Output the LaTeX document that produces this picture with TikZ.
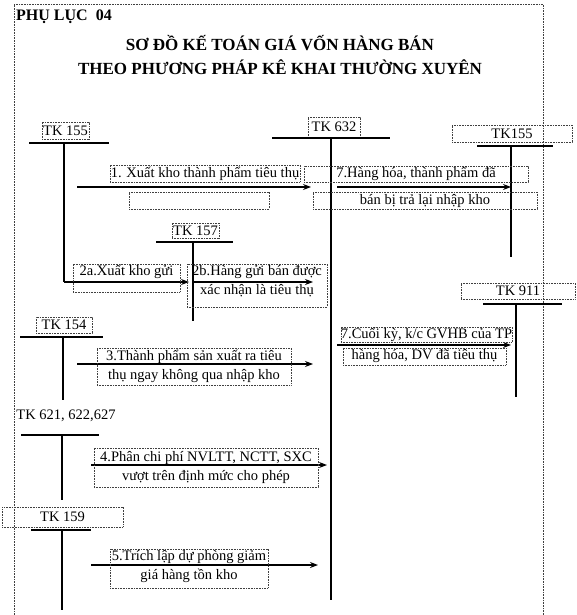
\documentclass[tikz,border=0pt]{standalone}
\usepackage{fontspec}
\setmainfont{Liberation Serif}
\usetikzlibrary{arrows.meta}
\begin{document}
\begin{tikzpicture}[x=1pt,y=-1pt,
  fnt/.style={font=\fontsize{14.5}{19}\selectfont},
  lbl/.style={draw=black!75, dash pattern=on 0.8pt off 0.8pt, line width=0.6pt, inner sep=0pt, fnt, align=center},
  box/.style={draw=black!75, dash pattern=on 0.8pt off 0.8pt, line width=0.6pt, inner sep=0pt},
  txt/.style={inner sep=0pt, fnt, align=center},
  acct/.style={line width=1.1pt},
  arr/.style={line width=1.1pt,-{Stealth[length=8pt,width=6pt]}},
  frm/.style={draw=black!75, dash pattern=on 0.8pt off 0.8pt, line width=0.6pt}]
\useasboundingbox (0,0) rectangle (576,615);
% frame
\coordinate (fbl) at (14,615);
\coordinate (ftl) at (14,4);
\coordinate (ftr) at (543,4);
\coordinate (fbr) at (543,615);
\draw[frm] (fbl) -- (ftl) -- (ftr) -- (fbr);
% titles
\node[inner sep=0pt, anchor=west, font=\fontsize{16}{18}\selectfont\bfseries] (pl) at (16,17) {PHỤ LỤC\ \ 04};
\node[inner sep=0pt, font=\fontsize{17}{20}\selectfont\bfseries] (t1) at (280,43) {SƠ ĐỒ KẾ TOÁN GIÁ VỐN HÀNG BÁN};
\node[inner sep=0pt, font=\fontsize{17}{20}\selectfont\bfseries] (t2) at (280,67) {THEO PHƯƠNG PHÁP KÊ KHAI THƯỜNG XUYÊN};

% account labels
\node[lbl, minimum width=47pt, minimum height=17pt] (l155) at (65.5,130.5) {TK 155};
\node[lbl, minimum width=52pt, minimum height=20pt] (l632) at (334,127) {TK 632};
\node[lbl, minimum width=120pt, minimum height=17pt] (l155r) at (512,133.5) {TK155};
\node[lbl, minimum width=47pt, minimum height=15pt] (l157) at (195.5,230.5) {TK 157};
\node[lbl, minimum width=114pt, minimum height=16pt] (l911) at (518,291) {TK 911};
\node[lbl, minimum width=56pt, minimum height=16pt] (l154) at (64,325) {TK 154};
\node[txt] (l621) at (66,415.5) {TK 621, 622,627};
\node[lbl, minimum width=121pt, minimum height=20pt] (l159) at (62.5,517) {TK 159};

% T-account coordinates
\coordinate (a155l) at (29,143); \coordinate (a155r) at (109,143);
\coordinate (a155t) at (64,143); \coordinate (a155b) at (64,282);
\coordinate (a632l) at (272,138); \coordinate (a632r) at (390,138);
\coordinate (a632t) at (331,138); \coordinate (a632b) at (331,600);
\coordinate (a155Rl) at (477,146); \coordinate (a155Rr) at (553,146);
\coordinate (a155Rt) at (511,146); \coordinate (a155Rb) at (511,257);
\coordinate (a157l) at (156,242); \coordinate (a157r) at (233,242);
\coordinate (a157t) at (193,242); \coordinate (a157b) at (193,321);
\coordinate (a911l) at (483,304); \coordinate (a911r) at (562,304);
\coordinate (a911t) at (516,304); \coordinate (a911b) at (516,397);
\coordinate (a154l) at (20,337); \coordinate (a154r) at (103,337);
\coordinate (a154t) at (63,337); \coordinate (a154b) at (63,400);
\coordinate (a621l) at (21,435); \coordinate (a621r) at (99,435);
\coordinate (a621t) at (62,435); \coordinate (a621b) at (62,500);
\coordinate (a159l) at (31,530); \coordinate (a159r) at (91,530);
\coordinate (a159t) at (62,530); \coordinate (a159b) at (62,610);

\draw[acct] (a155l) -- (a155r);
\draw[acct] (a632l) -- (a632r);
\draw[acct] (a155Rl) -- (a155Rr);
\draw[acct] (a157l) -- (a157r);
\draw[acct] (a911l) -- (a911r);
\draw[acct] (a154l) -- (a154r);
\draw[acct] (a621l) -- (a621r);
\draw[acct] (a159l) -- (a159r);
\draw[acct] (a632t) -- (a632b);
\draw[acct] (a155Rt) -- (a155Rb);
\draw[acct] (a157t) -- (a157b);
\draw[acct] (a911t) -- (a911b);
\draw[acct] (a154t) -- (a154b);
\draw[acct] (a621t) -- (a621b);
\draw[acct] (a159t) -- (a159b);

% arrows
\coordinate (s1) at (77,187); \coordinate (e1) at (311,187);
\draw[arr] (s1) -- (e1);
\coordinate (e2a) at (189,282);
\draw[acct] (a155t) -- (a155b);
\draw[arr] (a155b) -- (e2a);
\coordinate (e2b) at (313,282);
\draw[arr] (a157t |- e2b) -- (e2b);
\coordinate (s7) at (337,187); \coordinate (e7) at (511,187);
\draw[arr] (s7) -- (e7);
\coordinate (s7c) at (337,345); \coordinate (e7c) at (511,345);
\draw[arr] (s7c) -- (e7c);
\coordinate (s3) at (77,364); \coordinate (e3) at (313,364);
\draw[arr] (s3) -- (e3);
\coordinate (s4) at (91,465); \coordinate (e4) at (327,465);
\draw[arr] (s4) -- (e4);
\coordinate (s5) at (91,565); \coordinate (e5) at (318,565);
\draw[arr] (s5) -- (e5);

% labels of entries
\node[lbl, minimum width=190pt, minimum height=17pt] (n1) at (205,173.5) {1. Xuất kho thành phẩm tiêu thụ};
\node[box, minimum width=140pt, minimum height=17pt] (n1b) at (199,200.5) {};
\node[lbl, minimum width=224pt, minimum height=16pt] (n7a) at (416,174) {7.Hàng hóa, thành phẩm đã};
\node[lbl, minimum width=224pt, minimum height=17pt] (n7b) at (425,200.5) {bán bị trả lại nhập kho};
\node[box, minimum width=107pt, minimum height=28pt] (b2a) at (126.5,278) {};
\node[txt] (t2a) at (126.5,272) {2a.Xuất kho gửi};
\node[box, minimum width=140pt, minimum height=43pt] (b2b) at (257,285.5) {};
\node[txt] (t2b) at (257,281) {2b.Hàng gửi bán được\\xác nhận là tiêu thụ};
\node[lbl, minimum width=171pt, minimum height=15pt] (n7c) at (426.5,334.5) {7.Cuối kỳ, k/c GVHB của TP};
\node[lbl, minimum width=163pt, minimum height=17pt] (n7d) at (424.5,356.5) {hàng hóa, DV đã tiêu thụ};
\node[box, minimum width=194pt, minimum height=37pt] (b3) at (194,366.5) {};
\node[txt] (t3) at (194,366.5) {3.Thành phẩm sản xuất ra tiêu\\thụ ngay không qua nhập kho};
\node[box, minimum width=224pt, minimum height=39pt] (b4) at (206,467.5) {};
\node[txt] (t4) at (206,467) {4.Phân chi phí NVLTT, NCTT, SXC\\vượt trên định mức cho phép};
\node[box, minimum width=158pt, minimum height=39pt] (b5) at (189,568.5) {};
\node[txt] (t5) at (189,567) {5.Trích lập dự phòng giảm\\giá hàng tồn kho};
\end{tikzpicture}
\end{document}
